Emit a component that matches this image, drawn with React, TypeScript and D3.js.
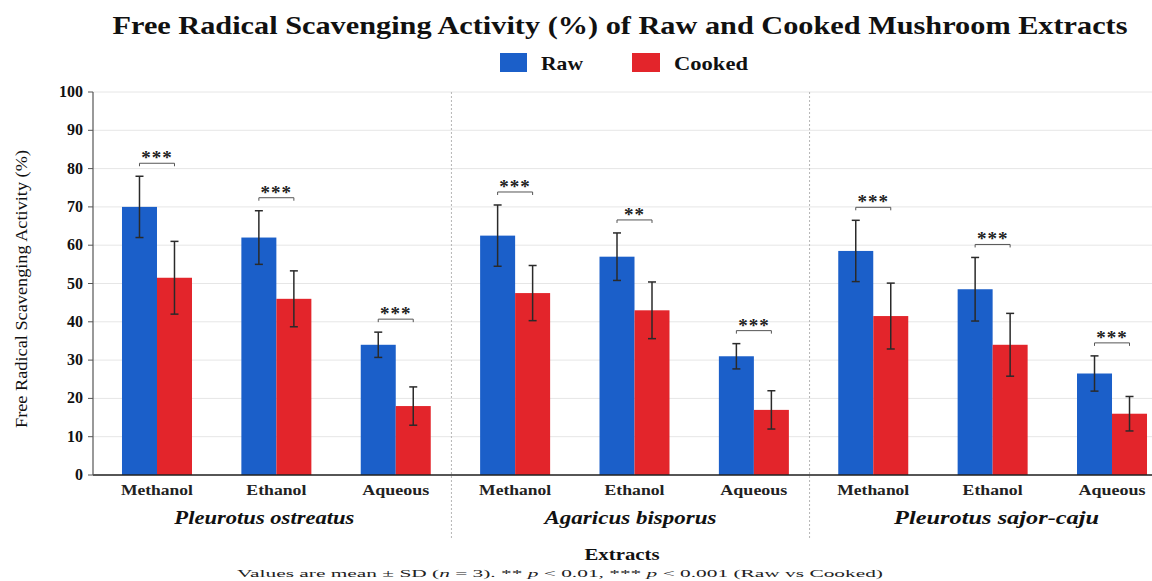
import React from "react";
import * as d3 from "d3";

// Mushroom species (outer groups) and solvent extracts (inner categories)
const species = ["Pleurotus ostreatus", "Agaricus bisporus", "Pleurotus sajor-caju"];
const extracts = ["Methanol", "Ethanol", "Aqueous"];
const seriesNames = ["Raw", "Cooked"];

// Mean scavenging activity (%) and SD, ordered species × extract
const rawMean = [70, 62, 34, 62.5, 57, 31, 58.5, 48.5, 26.5];
const rawSD = [8, 7, 3.3, 8, 6.2, 3.3, 8, 8.3, 4.6];
const cookedMean = [51.5, 46, 18, 47.5, 43, 17, 41.5, 34, 16];
const cookedSD = [9.5, 7.3, 5, 7.2, 7.4, 5, 8.6, 8.2, 4.5];
const significance = ["***", "***", "***", "***", "**", "***", "***", "***", "***"];

const yTicks = [0, 10, 20, 30, 40, 50, 60, 70, 80, 90, 100];

const W = 1152;
const H = 581;
const plotLeft = 93;
const plotTop = 92;
const plotBottom = 475;
const plotRight = 1152;

const BLUE = "#1b5fc9";
const RED = "#e3252b";
const serif = "'Liberation Serif', 'Times New Roman', Times, serif";

// Rendered widths of the label strings
const extractWidth: Record<string, number> = { Methanol: 72, Ethanol: 60, Aqueous: 67 };
const speciesWidth: Record<string, number> = {
  "Pleurotus ostreatus": 180,
  "Agaricus bisporus": 172,
  "Pleurotus sajor-caju": 205,
};

export default function App() {
  const keys = species.flatMap((s) => extracts.map((e) => `${s}|${e}`));

  const y = d3.scaleLinear().domain([0, 100]).range([plotBottom, plotTop]);
  const x = d3.scaleBand<string>().domain(keys).range([97.3, 1171.7]).padding(0);
  const sub = d3
    .scaleBand<string>()
    .domain(seriesNames)
    .range([-35, 35])
    .padding(0);

  const colors = d3.scaleOrdinal<string, string>().domain(seriesNames).range([BLUE, RED]);

  const rows = keys.map((k, i) => {
    const [sp, ex] = k.split("|");
    return {
      key: k,
      species: sp,
      extract: ex,
      center: (x(k) as number) + x.bandwidth() / 2,
      values: [
        { name: "Raw", mean: rawMean[i], sd: rawSD[i] },
        { name: "Cooked", mean: cookedMean[i], sd: cookedSD[i] },
      ],
      sig: significance[i],
    };
  });

  // Dotted separators between species groups
  const separators = [1, 2].map((g) => {
    const lastPrev = rows[g * 3 - 1];
    const firstNext = rows[g * 3];
    return (lastPrev.center + firstNext.center) / 2 - 4;
  });

  const groupCenters = species.map((_, g) => rows[g * 3 + 1].center - 12 + g * 8);

  const capW = 8;

  return (
    <svg width={W} height={H} style={{ display: "block", position: "absolute", left: 0, top: 0, background: "#fff" }}>
      <rect x={0} y={0} width={W} height={H} fill="#fff" />

      {/* Title */}
      <text
        x={620}
        y={34}
        textAnchor="middle"
        fontFamily={serif}
        fontWeight="bold"
        fontSize={25}
        textLength={1015}
        lengthAdjust="spacingAndGlyphs"
        fill="#111"
      >
        Free Radical Scavenging Activity (%) of Raw and Cooked Mushroom Extracts
      </text>

      {/* Legend */}
      <g fontFamily={serif} fontWeight="bold" fontSize={19} fill="#111">
        <rect x={500} y={53} width={27} height={19} fill={BLUE} />
        <text x={541} y={70} textLength={42} lengthAdjust="spacingAndGlyphs">Raw</text>
        <rect x={632} y={53} width={28} height={19} fill={RED} />
        <text x={674} y={70} textLength={74} lengthAdjust="spacingAndGlyphs">Cooked</text>
      </g>

      {/* Horizontal grid */}
      {yTicks.map((t) => (
        <line key={`g${t}`} x1={plotLeft} x2={plotRight} y1={y(t)} y2={y(t)} stroke="#e6e6e6" strokeWidth={1} />
      ))}

      {/* Group separators */}
      {separators.map((sx, i) => (
        <line
          key={`sep${i}`}
          x1={sx}
          x2={sx}
          y1={plotTop}
          y2={540}
          stroke="#b5b5b5"
          strokeWidth={1}
          strokeDasharray="2,2"
        />
      ))}

      {/* Bars */}
      {rows.map((r) =>
        r.values.map((v) => (
          <rect
            key={`${r.key}-${v.name}`}
            x={r.center + (sub(v.name) as number)}
            y={y(v.mean)}
            width={sub.bandwidth()}
            height={y(0) - y(v.mean)}
            fill={colors(v.name)}
          />
        ))
      )}

      {/* Error bars */}
      {rows.map((r) =>
        r.values.map((v) => {
          const cx = r.center + (sub(v.name) as number) + sub.bandwidth() / 2;
          const top = y(v.mean + v.sd);
          const bot = y(v.mean - v.sd);
          return (
            <g key={`e-${r.key}-${v.name}`} stroke="#2a2a2a" strokeWidth={1.5}>
              <line x1={cx} x2={cx} y1={top} y2={bot} />
              <line x1={cx - capW / 2} x2={cx + capW / 2} y1={top} y2={top} />
              <line x1={cx - capW / 2} x2={cx + capW / 2} y1={bot} y2={bot} />
            </g>
          );
        })
      )}

      {/* Significance brackets */}
      {rows.map((r) => {
        const x1 = r.center + (sub("Raw") as number) + sub.bandwidth() / 2;
        const x2 = r.center + (sub("Cooked") as number) + sub.bandwidth() / 2;
        const maxTop = Math.max(...r.values.map((v) => v.mean + v.sd));
        const by = y(maxTop) - 13;
        return (
          <g key={`s-${r.key}`}>
            <path
              d={`M${x1},${by + 3}V${by}H${x2}V${by + 3}`}
              fill="none"
              stroke="#555"
              strokeWidth={1}
            />
            <text
              x={(x1 + x2) / 2}
              y={by + 1}
              textAnchor="middle"
              fontFamily={serif}
              fontWeight="bold"
              fontSize={19}
              fill="#222"
              letterSpacing={1}
            >
              {r.sig}
            </text>
          </g>
        );
      })}

      {/* Axes */}
      <line x1={plotLeft} x2={plotRight} y1={plotBottom} y2={plotBottom} stroke="#222" strokeWidth={1.5} />
      <line x1={plotLeft} x2={plotLeft} y1={plotTop} y2={plotBottom} stroke="#555" strokeWidth={1.2} />
      {yTicks.map((t) => (
        <g key={`t${t}`}>
          <line x1={plotLeft - 5} x2={plotLeft} y1={y(t)} y2={y(t)} stroke="#555" strokeWidth={1} />
          <text
            x={plotLeft - 10}
            y={y(t) + 5}
            textAnchor="end"
            fontFamily={serif}
            fontWeight="bold"
            fontSize={16}
            fill="#111"
          >
            {t}
          </text>
        </g>
      ))}

      {/* Y axis title */}
      <text
        transform={`translate(27, 289) rotate(-90)`}
        textAnchor="middle"
        fontFamily={serif}
        fontSize={16}
        textLength={278}
        lengthAdjust="spacingAndGlyphs"
        fill="#111"
      >
        Free Radical Scavenging Activity (%)
      </text>

      {/* Extract labels */}
      {rows.map((r) => (
        <text
          key={`xl-${r.key}`}
          x={r.center}
          y={495}
          textAnchor="middle"
          fontFamily={serif}
          fontWeight="bold"
          fontSize={14}
          textLength={extractWidth[r.extract]}
          lengthAdjust="spacingAndGlyphs"
          fill="#222"
        >
          {r.extract}
        </text>
      ))}

      {/* Species labels */}
      {species.map((s, g) => (
        <text
          key={`sp${g}`}
          x={groupCenters[g]}
          y={524}
          textAnchor="middle"
          fontFamily={serif}
          fontWeight="bold"
          fontStyle="italic"
          fontSize={19}
          textLength={speciesWidth[s]}
          lengthAdjust="spacingAndGlyphs"
          fill="#111"
        >
          {s}
        </text>
      ))}

      {/* X axis title */}
      <text
        x={622}
        y={560}
        textAnchor="middle"
        fontFamily={serif}
        fontWeight="bold"
        fontSize={17}
        textLength={75}
        lengthAdjust="spacingAndGlyphs"
        fill="#111"
      >
        Extracts
      </text>

      {/* Footnote */}
      <text
        x={560}
        y={577}
        textAnchor="middle"
        fontFamily={serif}
        fontSize={10}
        textLength={646}
        lengthAdjust="spacingAndGlyphs"
        fill="#222"
      >
        Values are mean ± SD (<tspan fontStyle="italic">n</tspan> = 3).  ** <tspan fontStyle="italic">p</tspan> &lt; 0.01,  *** <tspan fontStyle="italic">p</tspan> &lt; 0.001 (Raw vs Cooked)
      </text>
    </svg>
  );
}
